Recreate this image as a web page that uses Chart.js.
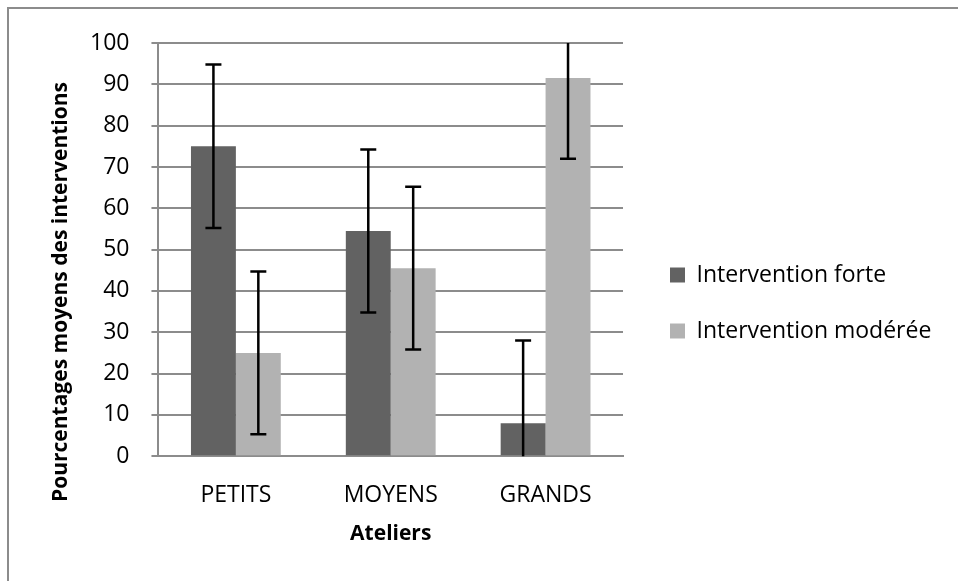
<!DOCTYPE html>
<html>
<head>
<meta charset="utf-8">
<script src="https://cdn.jsdelivr.net/npm/chart.js@4"></script>
<style>
  html, body { margin: 0; padding: 0; background: #fff; overflow: hidden; }
  #wrap { position: relative; width: 958px; height: 581px; }
  #frame { position: absolute; left: 7px; top: 7px; width: 2000px; height: 2000px;
           border-left: 2px solid #8c8c8c; border-top: 2px solid #8c8c8c; }
  #chart { position: absolute; left: 0; top: 0; }
</style>
</head>
<body>
<div id="wrap">
  <div id="frame"></div>
  <canvas id="chart" width="958" height="581"></canvas>
</div>
<script>
    // Données du graphique
    const categories = ['PETITS', 'MOYENS', 'GRANDS'];
    const forteValues = [75, 54.5, 8];
    const forteErrors = [19.8, 19.7, 20];
    const modereeValues = [25, 45.5, 91.5];
    const modereeErrors = [19.7, 19.7, 19.5];
    const yTitle = 'Pourcentages moyens des interventions';
    const xTitle = 'Ateliers';

    const fontFamily = '"Open Sans", "Noto Sans", sans-serif';
    Chart.defaults.color = '#000';
    Chart.defaults.font.family = fontFamily;

    // Barres d'erreur (pas de support natif dans Chart.js)
    const errorBars = {
        id: 'errorBars',
        afterDatasetsDraw(chart) {
            const ctx = chart.ctx;
            const y = chart.scales.y;
            ctx.save();
            ctx.strokeStyle = '#000';
            ctx.lineWidth = 2.5;
            chart.data.datasets.forEach((ds, i) => {
                const meta = chart.getDatasetMeta(i);
                meta.data.forEach((bar, j) => {
                    const v = ds.data[j];
                    const e = ds.errors[j];
                    const yHi = y.getPixelForValue(Math.min(v + e, y.max));
                    const yLo = y.getPixelForValue(Math.max(v - e, y.min));
                    const x = bar.x;
                    ctx.beginPath();
                    ctx.moveTo(x, yHi);
                    ctx.lineTo(x, yLo);
                    if (v + e <= y.max) {
                        ctx.moveTo(x - 8, yHi);
                        ctx.lineTo(x + 8, yHi);
                    }
                    if (v - e >= y.min) {
                        ctx.moveTo(x - 8, yLo);
                        ctx.lineTo(x + 8, yLo);
                    }
                    ctx.stroke();
                });
            });
            ctx.restore();
        }
    };

    // Titre vertical, centré plus bas que la zone de tracé comme dans l'original
    const yTitlePlugin = {
        id: 'yTitlePlugin',
        afterDraw(chart) {
            const ctx = chart.ctx;
            ctx.save();
            ctx.translate(61, 292);
            ctx.rotate(-Math.PI / 2);
            ctx.font = 'bold 21px ' + fontFamily;
            ctx.fillStyle = '#000';
            ctx.textAlign = 'center';
            ctx.textBaseline = 'middle';
            ctx.fillText(yTitle, 0, 0);
            ctx.restore();
        }
    };

    // Largeur et position de la légende
    const legendLayout = {
        id: 'legendLayout',
        afterInit(chart) {
            const lg = chart.legend;
            const fit = lg.fit;
            lg.fit = function () {
                fit.call(this);
                this.width = 335;
            };
        },
        afterLayout(chart) {
            const lg = chart.legend;
            lg.left += 14;
            lg.right += 14;
            lg.top += 8;
            lg.bottom += 8;
        }
    };

    const ctx = document.getElementById('chart').getContext('2d');
    const chart = new Chart(ctx, {
        type: 'bar',
        data: {
            labels: categories,
            datasets: [{
                label: 'Intervention forte',
                data: forteValues,
                errors: forteErrors,
                backgroundColor: '#626262',
                barPercentage: 1,
                categoryPercentage: 0.58
            }, {
                label: 'Intervention modérée',
                data: modereeValues,
                errors: modereeErrors,
                backgroundColor: '#b2b2b2',
                barPercentage: 1,
                categoryPercentage: 0.58
            }]
        },
        options: {
            responsive: false,
            animation: false,
            devicePixelRatio: 1,
            layout: {
                padding: { left: 68, top: 43, right: 0, bottom: 34 }
            },
            scales: {
                y: {
                    min: 0,
                    max: 100,
                    ticks: {
                        stepSize: 10,
                        padding: 22,
                        font: { size: 23 }
                    },
                    grid: {
                        color: '#8c8c8c',
                        lineWidth: 2,
                        tickLength: 7,
                        drawTicks: true
                    },
                    border: { color: '#8c8c8c', width: 2 }
                },
                x: {
                    grid: { display: false, drawTicks: false },
                    border: { color: '#8c8c8c', width: 2 },
                    ticks: {
                        padding: 25,
                        font: { size: 23 }
                    },
                    title: {
                        display: true,
                        text: xTitle,
                        font: { size: 21, weight: 'bold' },
                        padding: { top: -12, bottom: 0 }
                    }
                }
            },
            plugins: {
                legend: {
                    position: 'right',
                    labels: {
                        boxWidth: 15,
                        boxHeight: 15,
                        padding: 33,
                        font: { size: 23 }
                    }
                },
                tooltip: { enabled: false }
            }
        },
        plugins: [errorBars, yTitlePlugin, legendLayout]
    });
</script>
</body>
</html>
